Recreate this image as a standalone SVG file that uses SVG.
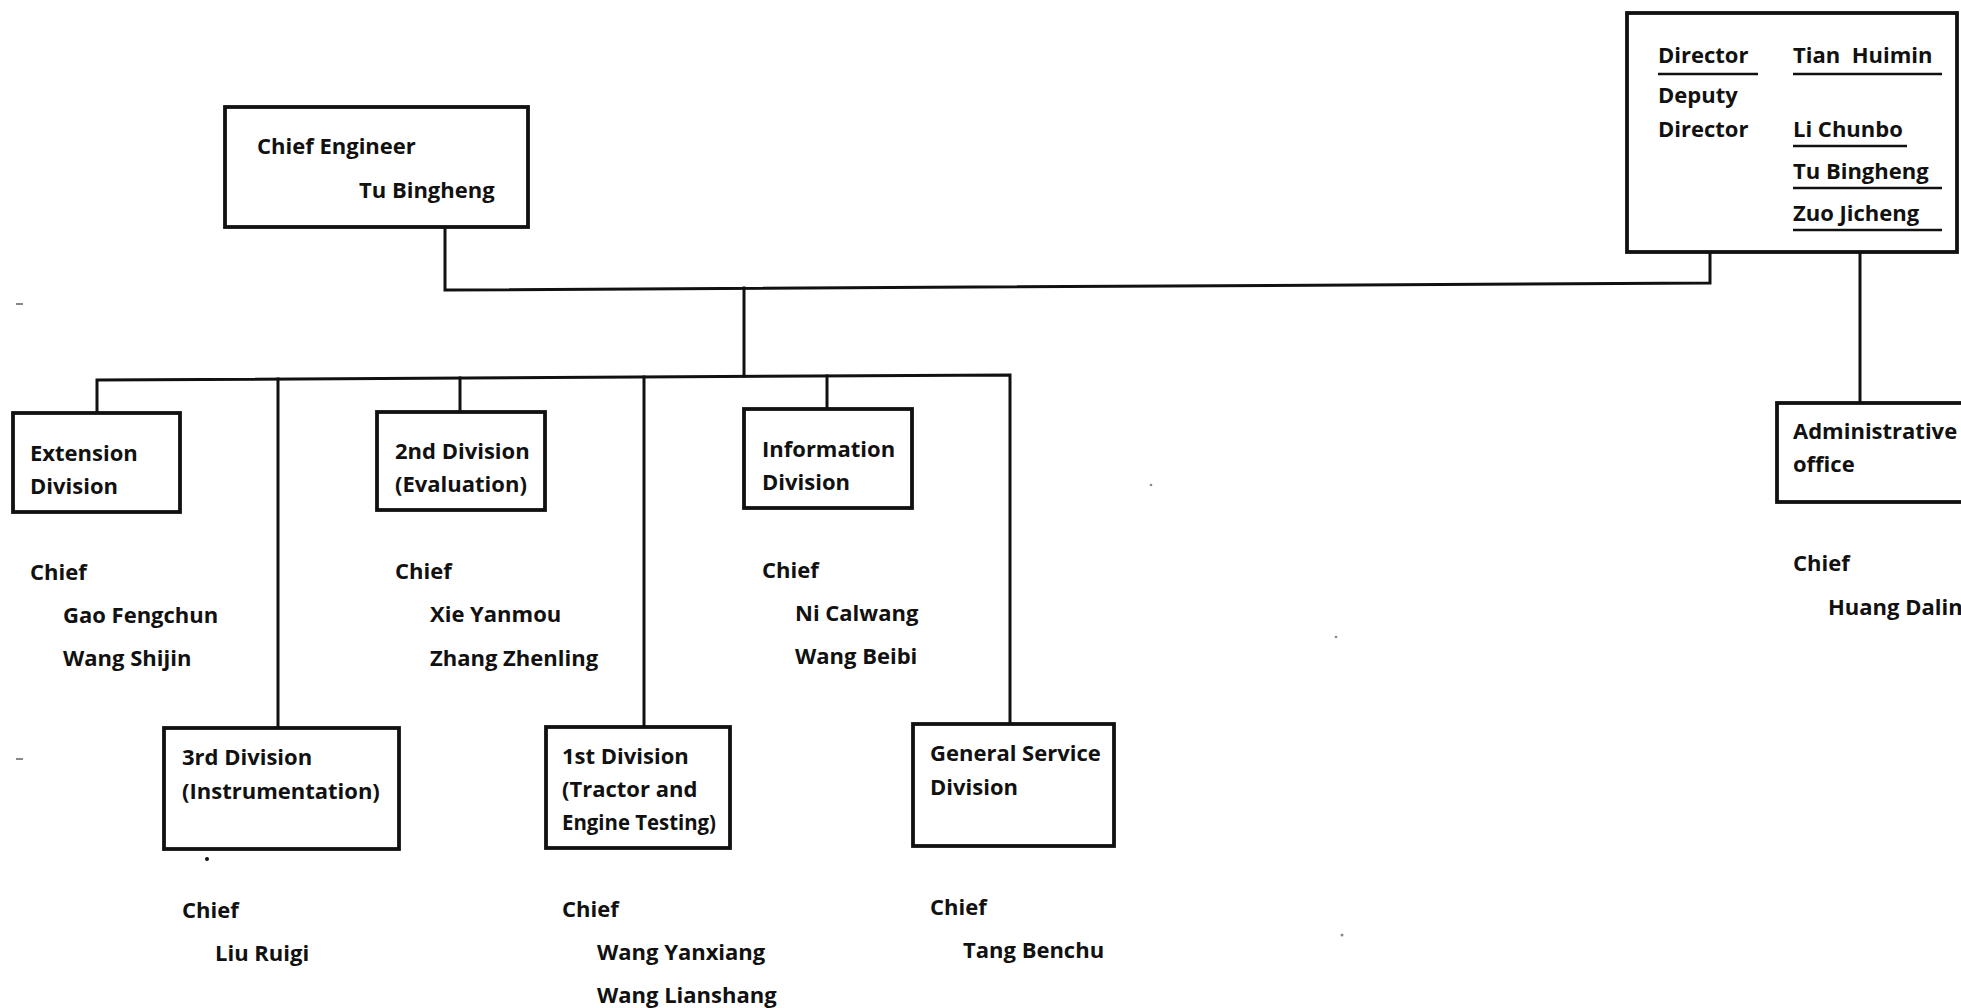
<svg xmlns="http://www.w3.org/2000/svg" width="1961" height="1008" viewBox="0 0 1961 1008">
<style>
.box{fill:#fff;stroke:#111;stroke-width:3.8}
.ln{stroke:#111;stroke-width:3;fill:none;stroke-linecap:square}
.ul{stroke:#111;stroke-width:2.5}
text{font-family:"Open Sans","Liberation Sans",sans-serif;font-weight:bold;font-size:22px;fill:#111}
.speck{fill:#888}
</style>
<rect width="1961" height="1008" fill="#fff"/>
<g id="connectors">
<polyline class="ln" points="445,228 445,290 1710,283 1710,252"/>
<line class="ln" x1="744" y1="288" x2="744" y2="376"/>
<polyline class="ln" points="97,413 97,380 1010,375 1010,724"/>
<line class="ln" x1="278" y1="379" x2="278" y2="728"/>
<line class="ln" x1="460" y1="378" x2="460" y2="412"/>
<line class="ln" x1="644" y1="377" x2="644" y2="727"/>
<line class="ln" x1="827" y1="376" x2="827" y2="409"/>
<line class="ln" x1="1860" y1="252" x2="1860" y2="403"/>
</g>
<g id="chief-engineer">
<rect class="box" x="225" y="107" width="303" height="120"/>
<text x="257" y="154">Chief Engineer</text>
<text x="359" y="198">Tu Bingheng</text>
</g>
<g id="director">
<rect class="box" x="1627" y="13" width="330" height="239"/>
<text x="1658" y="63">Director</text>
<line class="ul" x1="1658" y1="74" x2="1758" y2="74"/>
<text x="1793" y="63" xml:space="preserve">Tian  Huimin</text>
<line class="ul" x1="1793" y1="74" x2="1942" y2="74"/>
<text x="1658" y="103">Deputy</text>
<text x="1658" y="137">Director</text>
<text x="1793" y="137">Li Chunbo</text>
<line class="ul" x1="1793" y1="146" x2="1907" y2="146"/>
<text x="1793" y="179">Tu Bingheng</text>
<line class="ul" x1="1793" y1="188" x2="1942" y2="188"/>
<text x="1793" y="221">Zuo Jicheng</text>
<line class="ul" x1="1793" y1="230" x2="1942" y2="230"/>
</g>
<g id="extension-division">
<rect class="box" x="13" y="413" width="167" height="99"/>
<text x="30" y="461">Extension</text>
<text x="30" y="494">Division</text>
<text x="30" y="580">Chief</text>
<text x="63" y="623">Gao Fengchun</text>
<text x="63" y="666">Wang Shijin</text>
</g>
<g id="second-division">
<rect class="box" x="377" y="412" width="168" height="98"/>
<text x="395" y="459">2nd Division</text>
<text x="395" y="492">(Evaluation)</text>
<text x="395" y="579">Chief</text>
<text x="430" y="622">Xie Yanmou</text>
<text x="430" y="666">Zhang Zhenling</text>
</g>
<g id="information-division">
<rect class="box" x="744" y="409" width="168" height="99"/>
<text x="762" y="457">Information</text>
<text x="762" y="490">Division</text>
<text x="762" y="578">Chief</text>
<text x="795" y="621">Ni Calwang</text>
<text x="795" y="664">Wang Beibi</text>
</g>
<g id="third-division">
<rect class="box" x="164" y="728" width="235" height="121"/>
<text x="182" y="765">3rd Division</text>
<text x="182" y="799">(Instrumentation)</text>
<text x="182" y="918">Chief</text>
<text x="215" y="961">Liu Ruigi</text>
</g>
<g id="first-division">
<rect class="box" x="546" y="727" width="184" height="121"/>
<text x="562" y="764">1st Division</text>
<text x="562" y="797">(Tractor and</text>
<text x="562" y="830" textLength="154" lengthAdjust="spacingAndGlyphs">Engine Testing)</text>
<text x="562" y="917">Chief</text>
<text x="597" y="960">Wang Yanxiang</text>
<text x="597" y="1003">Wang Lianshang</text>
</g>
<g id="general-service-division">
<rect class="box" x="913" y="724" width="201" height="122"/>
<text x="930" y="761">General Service</text>
<text x="930" y="795">Division</text>
<text x="930" y="915">Chief</text>
<text x="963" y="958">Tang Benchu</text>
</g>
<g id="administrative-office">
<rect class="box" x="1777" y="403" width="200" height="99"/>
<text x="1793" y="439">Administrative</text>
<text x="1793" y="472">office</text>
<text x="1793" y="571">Chief</text>
<text x="1828" y="615">Huang Dalin</text>
</g>
<g id="specks">
<rect class="speck" x="16" y="303" width="7" height="2"/>
<rect class="speck" x="16" y="758" width="7" height="2"/>
<circle class="speck" cx="1151" cy="485" r="1.3"/>
<circle class="speck" cx="1336" cy="637" r="1.3"/>
<circle class="speck" cx="1342" cy="935" r="1.5"/>
<circle fill="#111" cx="207" cy="859" r="2"/>
</g>
</svg>
